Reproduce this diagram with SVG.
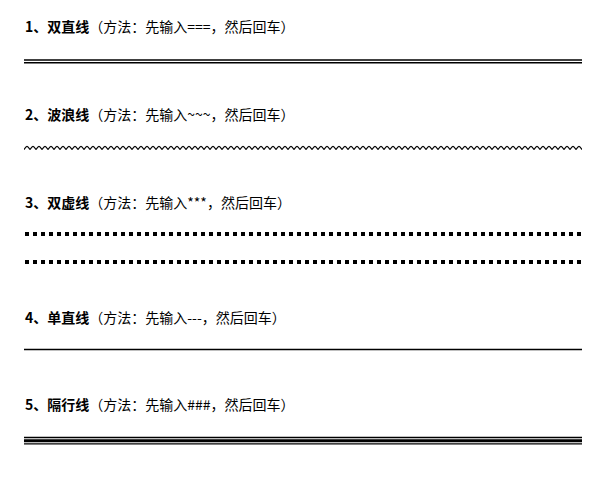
<svg xmlns="http://www.w3.org/2000/svg" width="609" height="482" viewBox="0 0 609 482">
<style>
text { font-family: "Noto Sans CJK SC", "Noto Sans", sans-serif; font-size: 14px; fill: #000; }
.b { font-weight: bold; }
.ln { stroke: #000; fill: none; }
</style>
<defs>
<pattern id="wave" patternUnits="userSpaceOnUse" x="24" y="145" width="6" height="6">
<path d="M0,4.6 C1,3 2,1.4 3,1.4 C4,1.4 5,3 6,4.6" stroke="#000" stroke-width="1.1" fill="none"/>
</pattern>
</defs>
<rect width="609" height="482" fill="#fff"/>
<g id="item1">
<text x="25" y="32"><tspan class="b">1、双直线</tspan>（方法：先输入===，然后回车）</text>
<line class="ln" x1="24" y1="60" x2="582" y2="60" stroke-width="1.4"/>
<line class="ln" x1="24" y1="62.7" x2="582" y2="62.7" stroke-width="1.4"/>
</g>
<g id="item2">
<text x="25" y="120"><tspan class="b">2、波浪线</tspan>（方法：先输入~~~，然后回车）</text>
<rect x="24" y="145" width="558" height="6" fill="url(#wave)"/>
</g>
<g id="item3">
<text x="25" y="208"><tspan class="b">3、双虚线</tspan>（方法：先输入***，然后回车）</text>
<line class="ln" x1="25" y1="234" x2="582" y2="234" stroke-width="4" stroke-dasharray="4 4"/>
<line class="ln" x1="25" y1="262" x2="582" y2="262" stroke-width="4" stroke-dasharray="4 4"/>
</g>
<g id="item4">
<text x="25" y="323"><tspan class="b">4、单直线</tspan>（方法：先输入---，然后回车）</text>
<line class="ln" x1="24" y1="349.5" x2="582" y2="349.5" stroke-width="1.3"/>
</g>
<g id="item5">
<text x="25" y="410"><tspan class="b">5、隔行线</tspan>（方法：先输入###，然后回车）</text>
<line class="ln" x1="24" y1="437.5" x2="582" y2="437.5" stroke-width="1.5"/>
<line class="ln" x1="24" y1="440.8" x2="582" y2="440.8" stroke-width="3"/>
<line class="ln" x1="24" y1="443.8" x2="582" y2="443.8" stroke-width="1.2"/>
</g>
</svg>
